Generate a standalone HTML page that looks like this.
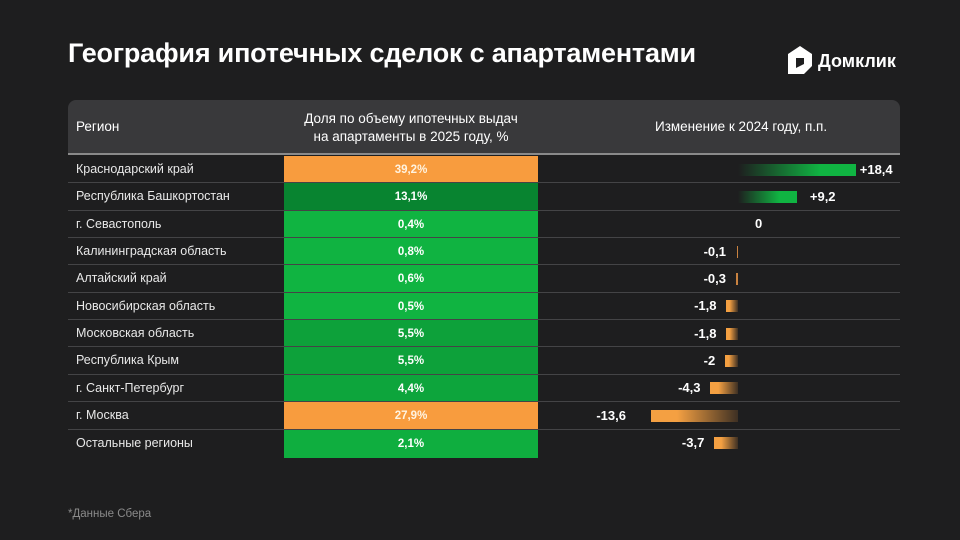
<!DOCTYPE html>
<html><head><meta charset="utf-8">
<style>
body{margin:0;width:960px;height:540px;background:#1e1e1f;overflow:hidden;font-family:"Liberation Sans",sans-serif;position:relative;color:#fff}
.abs{position:absolute}
#title{left:68px;top:38px;font-size:27px;font-weight:bold;letter-spacing:-0.2px}
#header{left:68px;top:100px;width:832px;height:55px;background:#39393b;border-radius:8px 8px 0 0;border-bottom:2px solid #8a8a8a;box-sizing:border-box}
.hd{font-size:13.5px;color:#fff}
.rowline{height:1px;background:#444446;left:68px;width:832px}
.rname{left:76px;font-size:12.5px;color:#e8e8e8}
.cell{left:284px;width:254px;display:flex;align-items:center;justify-content:center;font-size:11.5px;font-weight:bold}
.val{font-size:13px;font-weight:bold}
#note{left:68px;top:508px;font-size:11.5px;color:#8a8a8a}
</style></head><body>
<div id="title" class="abs">География ипотечных сделок с апартаментами</div>
<div class="abs" style="left:786px;top:44px">
<svg width="120" height="32" viewBox="0 0 120 32"><path d="M14 2 L26 10 L26 22 L18 30 L2 30 L2 10 Z" fill="#fff"/><path d="M10 14 L18 14 L18 20 L10 24 Z" fill="#1e1e1f"/><text x="32" y="23" font-family="Liberation Sans" font-weight="bold" font-size="18" fill="#fff">Домклик</text></svg></div>
<div id="header" class="abs"></div>
<div class="abs hd" style="left:76px;top:119px">Регион</div>
<div class="abs hd" style="left:284px;width:254px;top:110px;text-align:center;line-height:18px">Доля по объему ипотечных выдач<br>на апартаменты в 2025 году, %</div>
<div class="abs hd" style="left:655px;top:119px">Изменение к 2024 году, п.п.</div>
<div id="rows"></div>
<div id="note" class="abs">*Данные Сбера</div>
<script>
const regions=["Краснодарский край","Республика Башкортостан","г. Севастополь","Калининградская область","Алтайский край","Новосибирская область","Московская область","Республика Крым","г. Санкт-Петербург","г. Москва","Остальные регионы"];
const shares=[39.2,13.1,0.4,0.8,0.6,0.5,5.5,5.5,4.4,27.9,2.1];
const changes=[18.4,9.2,0,-0.1,-0.3,-1.8,-1.8,-2,-4.3,-13.6,-3.7];
const fmt=v=>String(v).replace('.',',');
const top0=156,rh=27.35,zeroX=738,ppu=6.4;
const xs=v=>zeroX+v*ppu;
function shareColor(v){
 if(v>=20) return '#f89c3e';
 const t=Math.min(v/13.1,1);
 const a=[16,182,66],b=[8,132,48];
 return 'rgb('+a.map((c,i)=>Math.round(c+(b[i]-c)*t)).join(',')+')';
}
const root=document.getElementById('rows');
regions.forEach((r,i)=>{
 const y=top0+i*rh;
 if(i>0){const l=document.createElement('div');l.className='abs rowline';l.style.top=(y-1)+'px';
 
 root.appendChild(l);}
 const n=document.createElement('div');n.className='abs rname';n.style.top=(y+6)+'px';n.textContent=r;
 
 root.appendChild(n);
 const c=document.createElement('div');c.className='abs cell';c.style.top=y+'px';c.style.height=Math.ceil(rh)+'px';
 c.style.background=shareColor(shares[i]);c.style.color=shares[i]>=20?'#fff3e0':'#fff';c.textContent=fmt(shares[i])+'%';
 
 root.appendChild(c);
 const v=changes[i];const cy=y+rh/2;
 if(v!==0){
  const b=document.createElement('div');b.className='abs';
  const x1=xs(v);const w=Math.max(Math.abs(x1-zeroX),1.5);
  b.style.top=(cy-6)+'px';b.style.height='12px';b.style.width=w+'px';
  if(v>0){b.style.left=zeroX+'px';b.style.background='linear-gradient(to right,rgba(16,180,66,0),#10b442 70%)';}
  else{b.style.left=(zeroX-w)+'px';b.style.background=Math.abs(v)<0.5?'#c98240':'linear-gradient(to left,rgba(240,150,60,0.15),#f4a042 70%)';}
  
  root.appendChild(b);
 }
 const t=document.createElement('div');t.className='abs val';t.style.top=(cy-8)+'px';
 t.textContent=(v>0?'+':'')+fmt(v);
 if(v>0){t.style.left=(xs(v)+(v>10?4:13))+'px';}
 else if(v===0){t.style.left=(zeroX+17)+'px';}
 else{const g=v<-10?25:10;t.style.right=(960-(Math.min(xs(v),zeroX-2)-g))+'px';}
 
 root.appendChild(t);
});
</script>
</body></html>
